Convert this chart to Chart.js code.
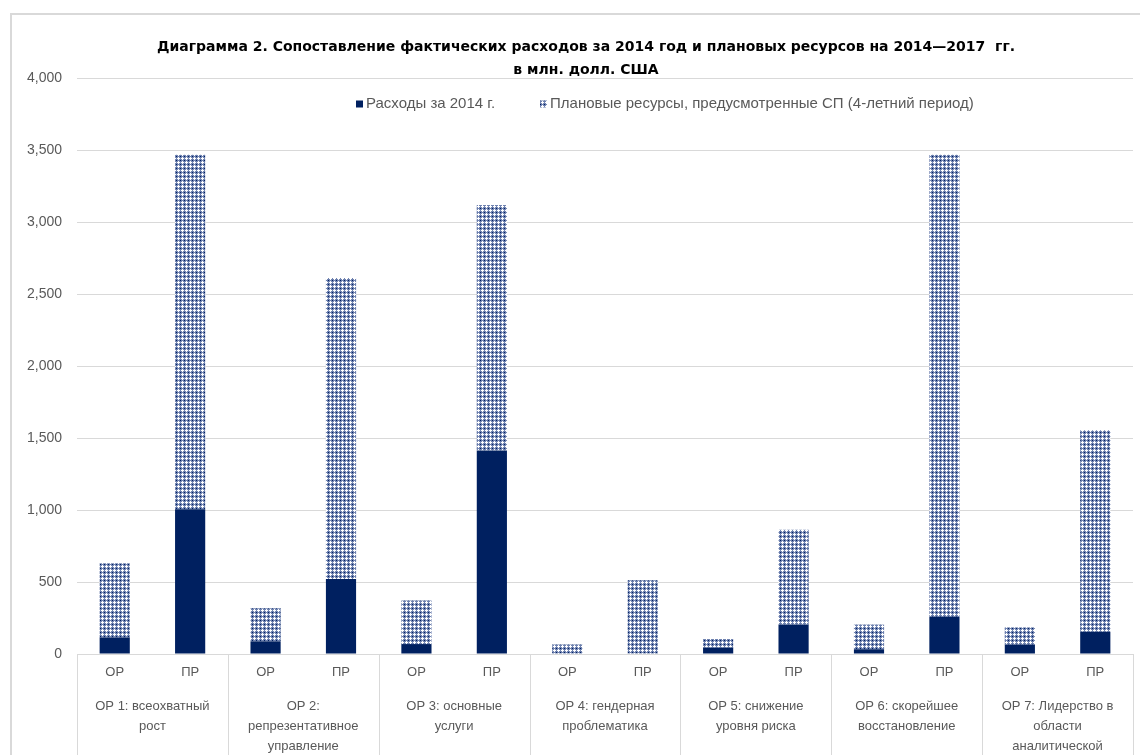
<!DOCTYPE html>
<html>
<head>
<meta charset="utf-8">
<title>Диаграмма 2</title>
<script src="https://cdn.jsdelivr.net/npm/chart.js@4.4.0/dist/chart.umd.min.js"></script>
<style>
    html, body { margin: 0; padding: 0; overflow: hidden; background: #fff; }
    #frame {
        position: absolute; left: 10px; top: 13px; width: 1300px; height: 900px;
        border-left: 2px solid #d9d9d9; border-top: 2px solid #d9d9d9;
    }
    #chart { position: absolute; left: 0; top: 0; }
</style>
</head>
<body>
<div id="frame"></div>
<!-- the original chart frame runs past the right and bottom edges of the crop -->
<canvas id="chart" width="1172" height="800"></canvas>
<script>
// Data
const barLabels = ['ОР', 'ПР', 'ОР', 'ПР', 'ОР', 'ПР', 'ОР', 'ПР', 'ОР', 'ПР', 'ОР', 'ПР', 'ОР', 'ПР'];
const groupLabels = [
    ['ОР 1: всеохватный', 'рост'],
    ['ОР 2:', 'репрезентативное', 'управление'],
    ['ОР 3: основные', 'услуги'],
    ['ОР 4: гендерная', 'проблематика'],
    ['ОР 5: снижение', 'уровня риска'],
    ['ОР 6: скорейшее', 'восстановление'],
    ['ОР 7: Лидерство в', 'области', 'аналитической']
];
const expenses2014 = [115, 1005, 88, 521, 69, 1414, 0, 0, 45, 204, 33, 259, 65, 155];
const plannedResources = [515, 2462, 229, 2090, 303, 1704, 66, 512, 59, 659, 171, 3208, 120, 1398];
const seriesNames = ['Расходы за 2014 г.', 'Плановые ресурсы, предусмотренные СП (4-летний период)'];
const titleLines = [
    'Диаграмма 2. Сопоставление фактических расходов за 2014 год и плановых ресурсов на 2014—2017  гг.',
    'в млн. долл. США'
];
const yMax = 4000;
const yStep = 500;

// Colors and fonts
const navy = '#002060';
const gridGray = '#d9d9d9';
const textGray = '#595959';
const FONT = "'Liberation Sans', Arial, sans-serif";
const TITLE_FONT = "'DejaVu Sans', 'Liberation Sans', sans-serif";

// Dotted/crosshatch pattern for planned resources
const makePattern = () => {
    const tile = document.createElement('canvas');
    tile.width = 4;
    tile.height = 4;
    const t = tile.getContext('2d');
    t.fillStyle = '#6f82b0';
    t.fillRect(0, 0, 4, 4);
    t.fillStyle = '#ffffff';
    [[2, 1], [1, 2], [2, 2], [3, 2], [2, 3]].forEach(([x, y]) => t.fillRect(x, y, 1, 1));
    t.fillStyle = navy;
    t.fillRect(0, 0, 1, 1);
    return t.createPattern(tile, 'repeat');
};

// Legend drawn inside the plot area, like the original
const legendInside = {
    id: 'legendInside',
    afterDraw(chart) {
        const { ctx, chartArea } = chart;
        const y = chartArea.top + 26;
        const offsets = [279, 463];
        ctx.save();
        ctx.font = '15px ' + FONT;
        ctx.textBaseline = 'middle';
        chart.data.datasets.forEach((ds, i) => {
            const x = chartArea.left + offsets[i];
            ctx.fillStyle = ds.backgroundColor;
            ctx.fillRect(x, y - 3.5, 7, 7);
            ctx.fillStyle = textGray;
            ctx.fillText(ds.label, x + 10, y);
        });
        ctx.restore();
    }
};

// Vertical separators between category groups below the axis
const groupSeparators = {
    id: 'groupSeparators',
    afterDraw(chart) {
        const { ctx, chartArea } = chart;
        const x = chart.scales.x;
        const step = (x.right - x.left) / groupLabels.length;
        ctx.save();
        ctx.strokeStyle = gridGray;
        ctx.lineWidth = 1;
        for (let k = 0; k <= groupLabels.length; k++) {
            const px = Math.round(x.left + k * step) + 0.5;
            ctx.beginPath();
            ctx.moveTo(px, chartArea.bottom);
            ctx.lineTo(px, chart.height);
            ctx.stroke();
        }
        ctx.restore();
    }
};

const ctx = document.getElementById('chart').getContext('2d');
new Chart(ctx, {
    type: 'bar',
    data: {
        labels: barLabels,
        datasets: [
            {
                label: seriesNames[0],
                data: expenses2014,
                backgroundColor: navy,
                stack: 'total',
                barPercentage: 0.4,
                categoryPercentage: 1
            },
            {
                label: seriesNames[1],
                data: plannedResources,
                backgroundColor: makePattern(),
                stack: 'total',
                barPercentage: 0.4,
                categoryPercentage: 1
            }
        ]
    },
    options: {
        responsive: false,
        animation: false,
        layout: { padding: 0 },
        plugins: {
            legend: { display: false },
            tooltip: { enabled: false },
            title: {
                display: true,
                text: titleLines,
                color: '#000000',
                font: { family: TITLE_FONT, size: 14, weight: 'bold', lineHeight: 1.65 },
                padding: { top: 35.5, bottom: -3.7 }
            }
        },
        scales: {
            x: {
                stacked: true,
                grid: { display: false, drawTicks: false },
                border: { display: false },
                ticks: {
                    color: textGray,
                    font: { family: FONT, size: 13 },
                    padding: 11,
                    autoSkip: false,
                    maxRotation: 0
                },
                afterFit: (scale) => { scale.height = 40; }
            },
            x2: {
                type: 'category',
                labels: groupLabels,
                position: 'bottom',
                offset: true,
                grid: { display: false, drawTicks: false },
                border: { display: false },
                ticks: {
                    color: textGray,
                    font: { family: FONT, size: 13, lineHeight: 1.55 },
                    padding: 2,
                    autoSkip: false,
                    maxRotation: 0
                },
                afterFit: (scale) => { scale.height = 106; }
            },
            y: {
                stacked: true,
                min: 0,
                max: yMax,
                grid: { color: gridGray, lineWidth: 1, drawTicks: false },
                border: { display: false },
                ticks: {
                    stepSize: yStep,
                    color: textGray,
                    font: { family: FONT, size: 14 },
                    padding: 15,
                    callback: (v) => v.toLocaleString('en-US')
                },
                afterFit: (scale) => { scale.width = 77; }
            },
            // empty right-hand strip, keeps the plot inside the crop
            yPad: {
                position: 'right',
                grid: { display: false },
                border: { display: false },
                ticks: { display: false },
                afterFit: (scale) => { scale.width = 39; }
            }
        }
    },
    plugins: [legendInside, groupSeparators]
});
</script>
</body>
</html>
